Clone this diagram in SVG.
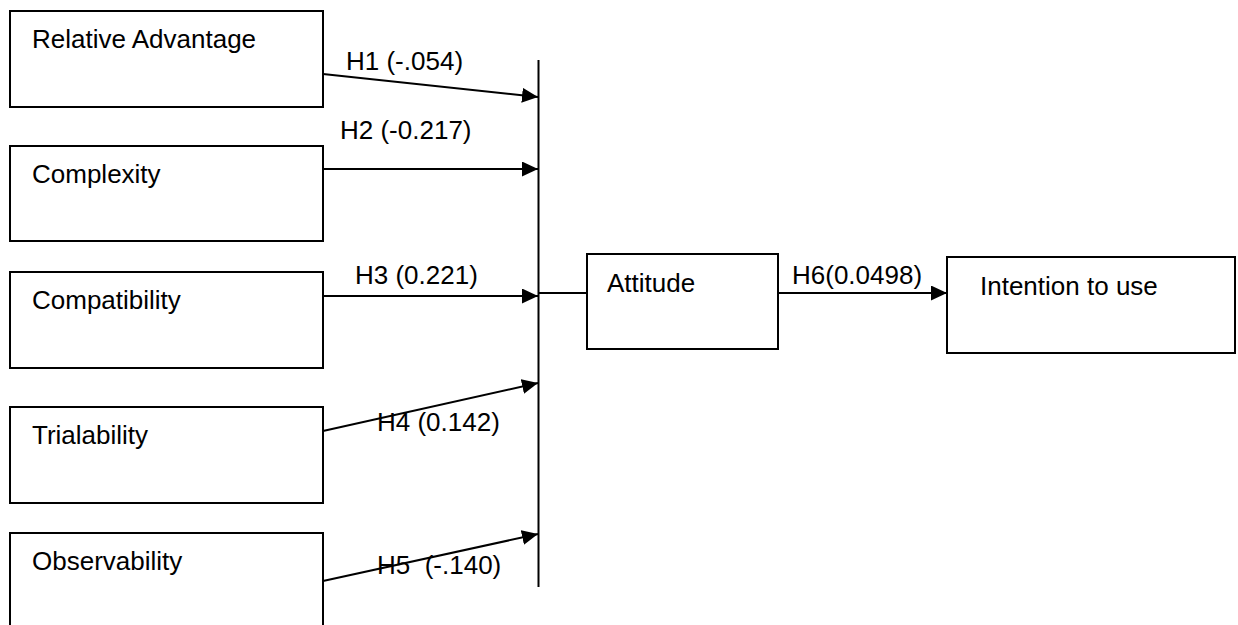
<svg xmlns="http://www.w3.org/2000/svg" width="1238" height="625" viewBox="0 0 1238 625">
<defs>
<style>
.box{fill:#fff;stroke:#000;stroke-width:2}
.t{font-family:"Liberation Sans",Arial,sans-serif;font-size:26px;fill:#000;white-space:pre}
.c{stroke:#000;stroke-width:2;fill:none}
</style>
<marker id="ah" markerUnits="userSpaceOnUse" markerWidth="17" markerHeight="15" refX="16" refY="7.5" orient="auto">
<path d="M0,0 L16,7.5 L0,15 Z" fill="#000"/>
</marker>
</defs>
<rect width="1238" height="625" fill="#fff"/>
<g id="n-relative-advantage"><rect class="box" x="10" y="11" width="313" height="96"/><text class="t" x="32" y="48">Relative Advantage</text></g>
<g id="n-complexity"><rect class="box" x="10" y="146" width="313" height="95"/><text class="t" x="32" y="183">Complexity</text></g>
<g id="n-compatibility"><rect class="box" x="10" y="272" width="313" height="96"/><text class="t" x="32" y="309">Compatibility</text></g>
<g id="n-trialability"><rect class="box" x="10" y="407" width="313" height="96"/><text class="t" x="32" y="444">Trialability</text></g>
<g id="n-observability"><rect class="box" x="10" y="533" width="313" height="100"/><text class="t" x="32" y="570">Observability</text></g>
<g id="n-attitude"><rect class="box" x="587" y="254" width="191" height="95"/><text class="t" x="607" y="292">Attitude</text></g>
<g id="n-intention"><rect class="box" x="947" y="257" width="288" height="96"/><text class="t" x="980" y="295">Intention to use</text></g>
<g id="connectors">
<line class="c" x1="538.5" y1="60" x2="538.5" y2="587"/>
<line class="c" x1="323" y1="74" x2="538" y2="97" marker-end="url(#ah)"/>
<line class="c" x1="323" y1="169" x2="538" y2="169" marker-end="url(#ah)"/>
<line class="c" x1="323" y1="296" x2="538" y2="296" marker-end="url(#ah)"/>
<line class="c" x1="323" y1="431" x2="538" y2="383" marker-end="url(#ah)"/>
<line class="c" x1="323" y1="581" x2="538" y2="534" marker-end="url(#ah)"/>
<line class="c" x1="538" y1="293" x2="587" y2="293"/>
<line class="c" x1="778" y1="293" x2="947" y2="293" marker-end="url(#ah)"/>
<text class="t" x="346" y="70">H1 (-.054)</text>
<text class="t" x="340" y="139">H2 (-0.217)</text>
<text class="t" x="355" y="284">H3 (0.221)</text>
<text class="t" x="377" y="431">H4 (0.142)</text>
<text class="t" x="377" y="574">H5  (-.140)</text>
<text class="t" x="792" y="284">H6(0.0498)</text>
</g>
</svg>
